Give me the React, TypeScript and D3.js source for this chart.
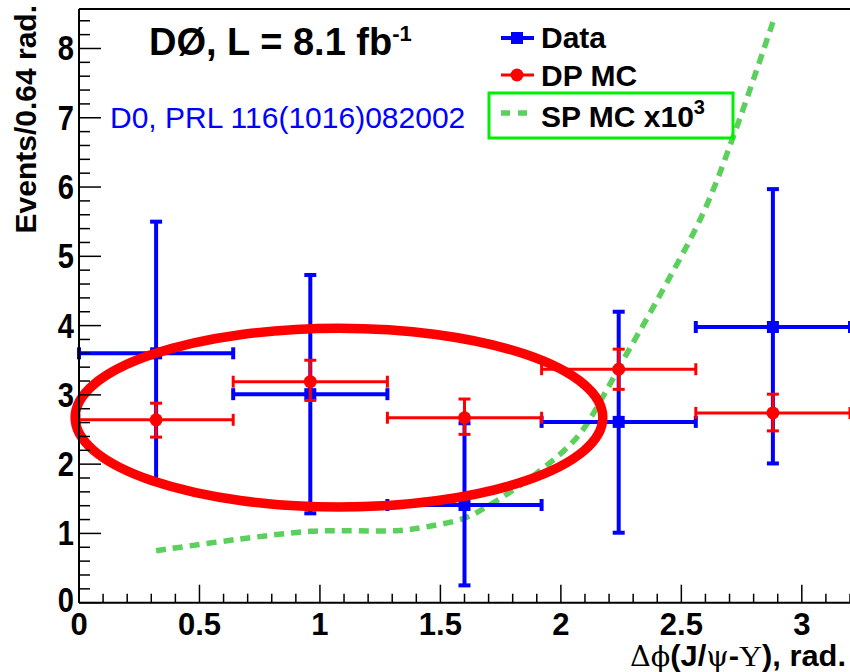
import React from 'react';
import * as d3 from 'd3';

// Bin centres (rad) and half width of 0.64 rad bins
const binCenters = [0.32, 0.96, 1.6, 2.24, 2.88];
const binHalfWidth = 0.32;

// Data (blue squares)
const dataValues = [3.6, 3.01, 1.41, 2.61, 3.98];
const dataErrHigh = [5.5, 4.73, 2.59, 4.2, 5.97];
const dataErrLow = [1.73, 1.29, 0.25, 1.01, 2.01];

// DP MC (red circles)
const mcValues = [2.64, 3.19, 2.67, 3.37, 2.74];
const mcErrHigh = [2.88, 3.5, 2.94, 3.66, 3.01];
const mcErrLow = [2.39, 2.92, 2.43, 3.08, 2.48];

// SP MC x10^3 (green dashed curve)
const spX = [0.32, 0.67, 0.96, 1.11, 1.32, 1.45, 1.6, 1.69, 1.9, 2.07, 2.19, 2.25, 2.4, 2.59, 2.72, 2.88];
const spY = [0.75, 0.92, 1.03, 1.04, 1.04, 1.1, 1.22, 1.38, 1.87, 2.4, 3.07, 3.45, 4.37, 5.62, 6.77, 8.38];

// Axis ticks
const xTickValues = [0, 0.5, 1, 1.5, 2, 2.5, 3];
const xTickLabels = ['0', '0.5', '1', '1.5', '2', '2.5', '3'];
const yTickValues = [0, 1, 2, 3, 4, 5, 6, 7, 8];
const yTickLabels = ['0', '1', '2', '3', '4', '5', '6', '7', '8'];

// Annotation ellipse (data coordinates)
const ellipseCenter = [1.079, 2.672];
const ellipseRadii = [1.095, 1.291];

const xDomain = [0, 3.2];
const yDomain = [0, 8.57];

const FONT = "'Liberation Sans', Arial, Helvetica, sans-serif";
const SERIF = "'DejaVu Serif', 'Liberation Serif', serif";
const BLUE = '#0000ff';
const RED = '#ff0000';
const GREEN = '#5cd05c';

export default function App() {
  const left = 79, right = 850, top = 9, bottom = 602.7;
  const x = d3.scaleLinear().domain(xDomain).range([left, right]);
  const y = d3.scaleLinear().domain(yDomain).range([bottom, top]);

  const xMinor = d3.range(0, 3.2001, 0.1).map((v) => +v.toFixed(2));
  const yMinor = d3.range(0, 8.5701, 0.2).map((v) => +v.toFixed(2));

  const spLine = d3
    .line<number>()
    .x((_, i) => x(spX[i]))
    .y((d) => y(d))
    .curve(d3.curveCatmullRom.alpha(0.5));

  const capW = 6;

  const errorBars = (
    vals: number[],
    hi: number[],
    lo: number[],
    color: string,
    sw: number,
    marker: 'square' | 'circle'
  ) =>
    binCenters.map((c, i) => {
      const cx = x(c);
      const cy = y(vals[i]);
      const x0 = x(c - binHalfWidth);
      const x1 = x(c + binHalfWidth);
      const yh = y(hi[i]);
      const yl = y(lo[i]);
      return (
        <g key={i} stroke={color} strokeWidth={sw} fill={color}>
          <line x1={x0} x2={x1} y1={cy} y2={cy} />
          <line x1={x0} x2={x0} y1={cy - capW} y2={cy + capW} />
          <line x1={x1} x2={x1} y1={cy - capW} y2={cy + capW} />
          <line x1={cx} x2={cx} y1={yh} y2={yl} />
          <line x1={cx - capW} x2={cx + capW} y1={yh} y2={yh} />
          <line x1={cx - capW} x2={cx + capW} y1={yl} y2={yl} />
          {marker === 'square' ? (
            <rect x={cx - 6} y={cy - 6} width={12} height={12} stroke="none" />
          ) : (
            <circle cx={cx} cy={cy} r={6.5} stroke="none" />
          )}
        </g>
      );
    });

  const ecx = x(ellipseCenter[0]);
  const ecy = y(ellipseCenter[1]);
  const erx = x(ellipseCenter[0] + ellipseRadii[0]) - ecx;
  const ery = ecy - y(ellipseCenter[1] + ellipseRadii[1]);

  return (
    <svg
      width={850}
      height={672}
      style={{ position: 'absolute', left: 0, top: 0, background: '#fff' }}
      fontFamily={FONT}
    >
      <rect x={0} y={0} width={850} height={672} fill="#fff" />

      {/* SP MC curve */}
      <path
        d={spLine(spY) || ''}
        fill="none"
        stroke={GREEN}
        strokeWidth={5.5}
        strokeDasharray="10 7"
      />

      {/* Data */}
      {errorBars(dataValues, dataErrHigh, dataErrLow, BLUE, 4, 'square')}
      {/* DP MC */}
      {errorBars(mcValues, mcErrHigh, mcErrLow, RED, 3, 'circle')}

      {/* Annotation ellipse */}
      <ellipse cx={ecx} cy={ecy} rx={erx} ry={ery} fill="none" stroke={RED} strokeWidth={9.5} />

      {/* Frame */}
      <g stroke="#000" strokeWidth={2} fill="none">
        <line x1={left} x2={right} y1={top} y2={top} />
        <line x1={left} x2={left} y1={top} y2={bottom} />
        <line x1={left} x2={right} y1={bottom} y2={bottom} />
      </g>

      {/* Ticks */}
      <g stroke="#000" strokeWidth={1.5}>
        {xMinor.map((v) => {
          const major = Math.abs(v * 2 - Math.round(v * 2)) < 1e-6;
          return (
            <line key={'xm' + v} x1={x(v)} x2={x(v)} y1={bottom} y2={bottom - (major ? 18 : 9)} />
          );
        })}
        {yMinor.map((v) => {
          const major = Math.abs(v - Math.round(v)) < 1e-6;
          return (
            <line key={'ym' + v} x1={left} x2={left + (major ? 22 : 11)} y1={y(v)} y2={y(v)} />
          );
        })}
      </g>

      {/* X tick labels */}
      <g fontSize={31} fontWeight="bold" textAnchor="middle" fill="#000">
        {xTickValues.map((v, i) => (
          <text key={'xl' + v} x={x(v)} y={bottom + 32}>
            {xTickLabels[i]}
          </text>
        ))}
      </g>
      {/* Y tick labels */}
      <g fontSize={30} fontWeight="bold" textAnchor="end" fill="#000">
        {yTickValues.map((v, i) => (
          <text
            key={'yl' + v}
            transform={`translate(${left - 5},${y(v) + (v === 0 ? 9 : 12)}) scale(0.97,1.15)`}
          >
            {yTickLabels[i]}
          </text>
        ))}
      </g>

      {/* Axis titles */}
      <text
        transform="translate(36,5) rotate(-90)"
        textAnchor="end"
        fontSize={30}
        fontWeight="bold"
        fill="#000"
      >
        Events/0.64 rad.
      </text>
      <text
        x={846}
        y={666}
        textAnchor="end"
        fontSize={29}
        fill="#000"
        textLength={216}
        lengthAdjust="spacingAndGlyphs"
      >
        <tspan fontFamily={SERIF} fontSize={27}>Δϕ</tspan>
        <tspan fontWeight="bold">(J/</tspan>
        <tspan fontFamily={SERIF} fontSize={27}>ψ</tspan>
        <tspan fontWeight="bold">-</tspan>
        <tspan fontFamily="'Liberation Serif', serif" fontSize={30}>Υ</tspan>
        <tspan fontWeight="bold">), rad.</tspan>
      </text>

      {/* Title */}
      <text x={149} y={55} fontSize={38} fontWeight="bold" fill="#000">
        DØ, L = 8.1 fb
        <tspan dy={-14} fontSize={22}>-1</tspan>
      </text>
      <text x={110} y={128} fontSize={30} fill={BLUE}>
        D0, PRL 116(1016)082002
      </text>

      {/* Legend */}
      <g>
        <line x1={501} x2={534} y1={38} y2={38} stroke={BLUE} strokeWidth={4} />
        <rect x={511} y={32} width={12} height={12} fill={BLUE} />
        <text x={541} y={48} fontSize={30} fontWeight="bold" fill="#000">
          Data
        </text>
        <line x1={501} x2={534} y1={75} y2={75} stroke={RED} strokeWidth={3} />
        <circle cx={517} cy={75} r={6.5} fill={RED} />
        <text x={541} y={86} fontSize={30} fontWeight="bold" fill="#000">
          DP MC
        </text>
        <rect x={489} y={93} width={244} height={45} fill="none" stroke="#00ee00" strokeWidth={3} />
        <line x1={501} x2={529} y1={113} y2={113} stroke={GREEN} strokeWidth={5.5} strokeDasharray="9 8" />
        <text x={541} y={127} fontSize={30} fontWeight="bold" fill="#000">
          SP MC x10
          <tspan dy={-13} fontSize={20}>3</tspan>
        </text>
      </g>
    </svg>
  );
}
